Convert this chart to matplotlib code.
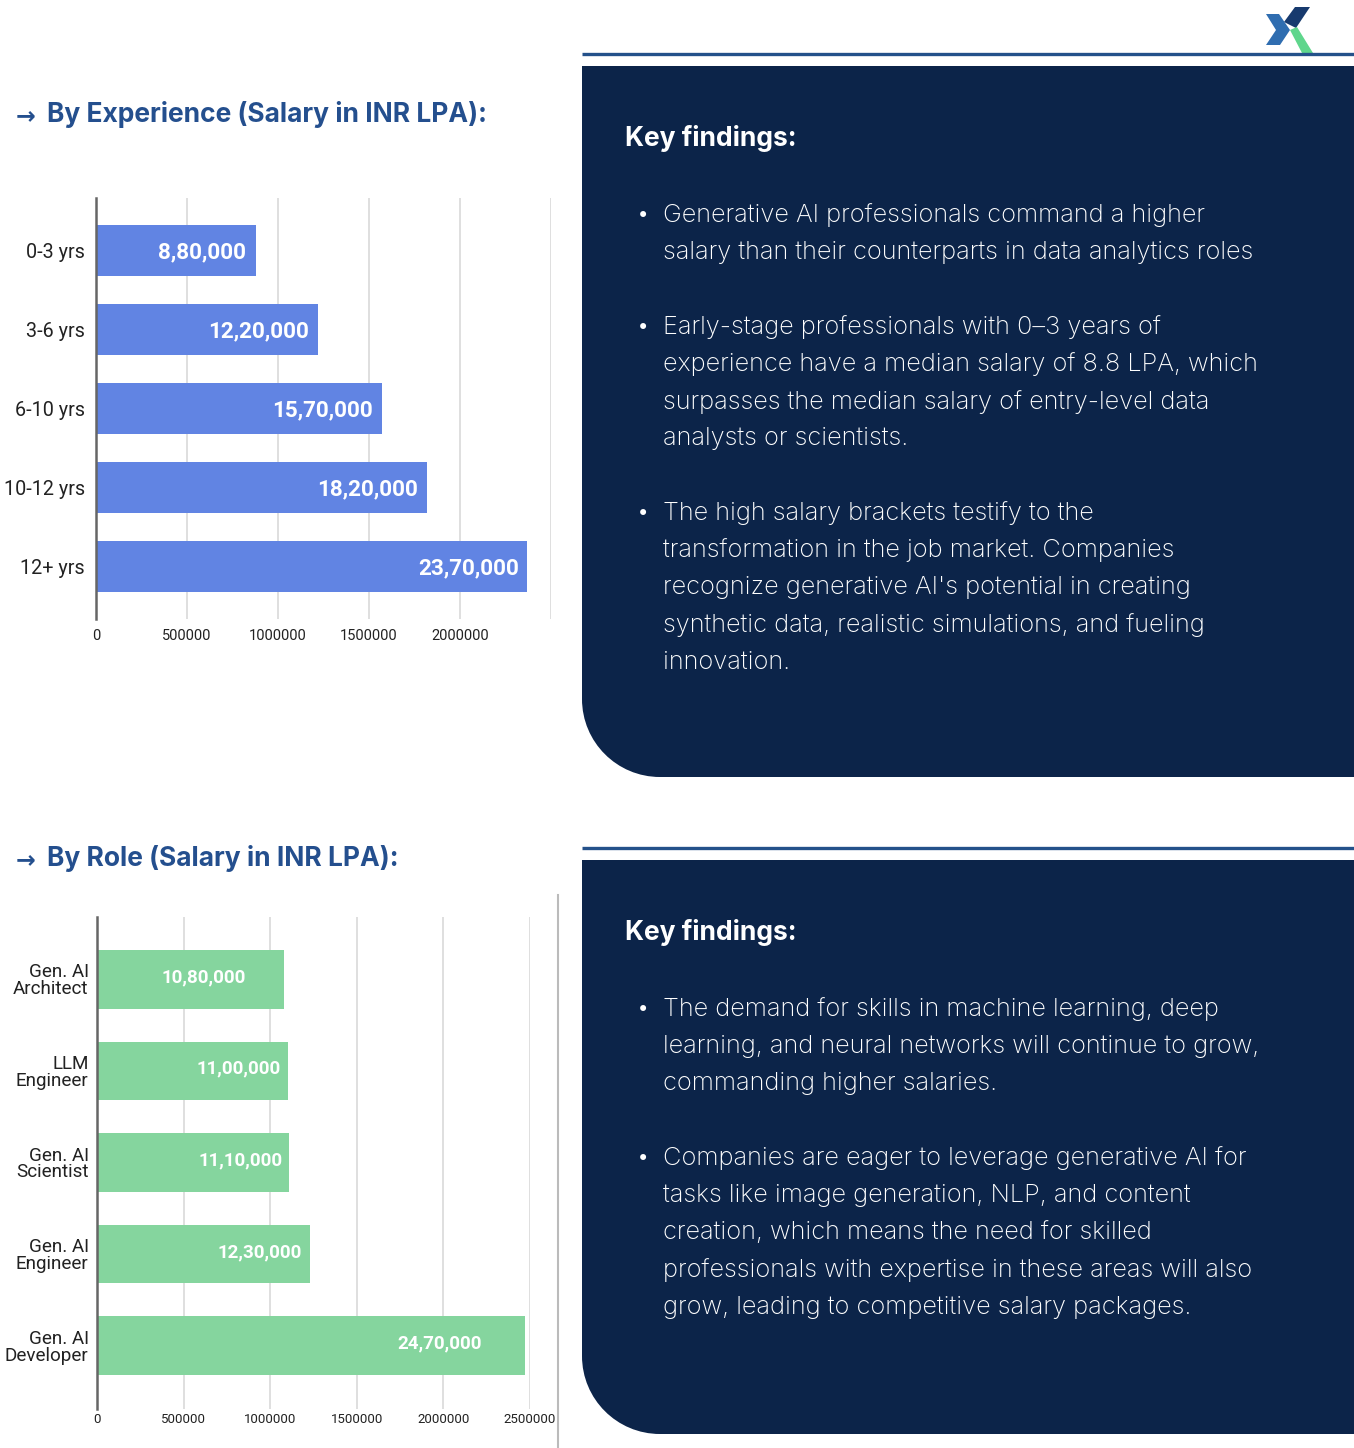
import matplotlib
matplotlib.use("Agg")
import matplotlib.pyplot as plt
from matplotlib.path import Path
from matplotlib.patches import PathPatch, Polygon
from matplotlib.ticker import FixedLocator

# ---------------- data ----------------
exp_categories = ["0-3 yrs", "3-6 yrs", "6-10 yrs", "10-12 yrs", "12+ yrs"]
exp_salaries = [880000, 1220000, 1570000, 1820000, 2370000]
exp_labels = ["8,80,000", "12,20,000", "15,70,000", "18,20,000", "23,70,000"]
exp_ticks = [0, 500000, 1000000, 1500000, 2000000]

role_categories = ["Gen. AI\nArchitect", "LLM\nEngineer", "Gen. AI\nScientist",
                   "Gen. AI\nEngineer", "Gen. AI\nDeveloper"]
role_salaries = [1080000, 1100000, 1110000, 1230000, 2470000]
role_labels = ["10,80,000", "11,00,000", "11,10,000", "12,30,000", "24,70,000"]
role_ticks = [0, 500000, 1000000, 1500000, 2000000, 2500000]

title_exp = "By Experience (Salary in INR LPA):"
title_role = "By Role (Salary in INR LPA):"
findings_head = "Key findings:"
findings_exp = [
    ["Generative AI professionals command a higher",
     "salary than their counterparts in data analytics roles"],
    ["Early-stage professionals with 0\u20133 years of",
     "experience have a median salary of 8.8 LPA, which",
     "surpasses the median salary of entry-level data",
     "analysts or scientists."],
    ["The high salary brackets testify to the",
     "transformation in the job market. Companies",
     "recognize generative AI's potential in creating",
     "synthetic data, realistic simulations, and fueling",
     "innovation."],
]
findings_role = [
    ["The demand for skills in machine learning, deep",
     "learning, and neural networks will continue to grow,",
     "commanding higher salaries."],
    ["Companies are eager to leverage generative AI for",
     "tasks like image generation, NLP, and content",
     "creation, which means the need for skilled",
     "professionals with expertise in these areas will also",
     "grow, leading to competitive salary packages."],
]

# ---------------- style ----------------
W, H = 1354, 1448
NAVY = "#0C2449"
LINE = "#24518A"
TITLE = "#244F8E"
BLUE_BAR = "#6184E3"
GREEN_BAR = "#85D59E"
GRID = "#D9D9D9"
AXIS = "#666666"
BODY_FONT = ["Inter", "DejaVu Sans"]
CHART_FONT = ["Roboto", "DejaVu Sans"]

fig = plt.figure(figsize=(W / 100, H / 100), dpi=100)
fig.patch.set_facecolor("white")

bg = fig.add_axes([0, 0, 1, 1], zorder=0)
bg.set_xlim(0, W)
bg.set_ylim(H, 0)
bg.axis("off")


def panel(x0, y0, x1, y1, r):
    k = 0.5523 * r
    verts = [(x0, y0), (x1, y0), (x1, y1), (x0 + r, y1),
             (x0 + r - k, y1), (x0, y1 - r + k), (x0, y1 - r),
             (x0, y0)]
    codes = [Path.MOVETO, Path.LINETO, Path.LINETO, Path.LINETO,
             Path.CURVE4, Path.CURVE4, Path.CURVE4, Path.CLOSEPOLY]
    bg.add_patch(PathPatch(Path(verts, codes), facecolor=NAVY, edgecolor="none"))


def findings(x_head, y_head, y_bullets, paragraphs):
    bg.text(x_head, y_head, findings_head, color="white", fontsize=19,
            fontweight="bold", family=BODY_FONT, va="center", ha="left")
    for yb, lines in zip(y_bullets, paragraphs):
        bg.text(643, yb + 1, "\u2022", color="white", fontsize=15,
                family=["DejaVu Sans"], va="center", ha="center")
        for i, ln in enumerate(lines):
            bg.text(663, yb + i * 37.3, ln, color="white", fontsize=18.3,
                    family=BODY_FONT, fontweight="light", va="center", ha="left")


for y_line, y0, y1 in [(54, 66, 777), (848, 860, 1434)]:
    bg.plot([582, W], [y_line, y_line], color=LINE, lw=2.4, solid_capstyle="butt")
    panel(582, y0, W, y1, 78)

findings(625, 139, [215, 327, 513], findings_exp)
findings(625, 933, [1009, 1158], findings_role)

for y, t in [(114, title_exp), (858, title_role)]:
    bg.text(26, y + 2, "\u2192", color=TITLE, fontsize=17, fontweight="bold",
            family=["DejaVu Sans"], va="center", ha="center")
    bg.text(47, y, t, color=TITLE, fontsize=19, fontweight="bold",
            family=BODY_FONT, va="center", ha="left")

# logo
bg.add_patch(Polygon([(1295, 7), (1310, 7), (1296, 28), (1284, 22)],
                     closed=True, facecolor="#173A6E", edgecolor="none"))
bg.add_patch(Polygon([(1266, 14), (1279, 14), (1290, 30), (1280, 45),
                      (1266, 45), (1276, 30)],
                     closed=True, facecolor="#2F6DB0", edgecolor="none"))
bg.add_patch(Polygon([(1290, 30), (1297, 27), (1313, 53), (1302, 53)],
                     closed=True, facecolor="#5FD68C", edgecolor="none"))

bg.plot([558, 558], [895, H], color="#BBBBBB", lw=1.5)


def px_axes(x0, y0, x1, y1):
    return fig.add_axes([x0 / W, 1 - y1 / H, (x1 - x0) / W, (y1 - y0) / H], zorder=2)


def bar_chart(ax, cats, vals, labels, ticks, color, xmax, ylim, height,
              label_fs, cat_fs, tick_fs, insets, cat_pad, tick_pad, label_dy):
    y = list(range(len(cats)))
    ax.barh(y, vals, height=height, color=color, zorder=2)
    ax.set_xlim(0, xmax)
    ax.set_ylim(*ylim)
    ax.set_yticks(y)
    ax.set_yticklabels(cats, fontsize=cat_fs, family=CHART_FONT, color="#222222",
                       linespacing=0.92)
    ax.tick_params(axis="y", length=0, pad=cat_pad)
    ax.xaxis.set_major_locator(FixedLocator(ticks))
    ax.set_xticklabels([str(t) for t in ticks], fontsize=tick_fs,
                       family=CHART_FONT, color="#222222")
    ax.tick_params(axis="x", length=0, pad=tick_pad)
    for g in range(500000, xmax + 1, 500000):
        ax.axvline(g, color=GRID, lw=1.2, zorder=1)
    for s in ["top", "right", "bottom"]:
        ax.spines[s].set_visible(False)
    ax.spines["left"].set_color(AXIS)
    ax.spines["left"].set_linewidth(1.8)
    ax.spines["left"].set_zorder(3)
    ax.set_facecolor("none")
    for yi, v, lab, ins in zip(y, vals, labels, insets):
        ax.annotate(lab, xy=(v, yi), xytext=(-ins, label_dy), textcoords="offset pixels",
                    ha="right", va="center", color="white", fontsize=label_fs,
                    fontweight="bold", family=CHART_FONT, zorder=4)


ax1 = px_axes(96, 198, 551, 619)
bar_chart(ax1, exp_categories, exp_salaries, exp_labels, exp_ticks, BLUE_BAR,
          2500000, (4.67, -0.67), 0.65, 16.2, 14.2, 10.5, [10, 9, 9, 9, 8], 8, 7, -2)

ax2 = px_axes(97, 917, 530, 1409)
bar_chart(ax2, role_categories, role_salaries, role_labels, role_ticks, GREEN_BAR,
          2500000, (4.69, -0.68), 0.64, 13.5, 13.6, 9.5, [38, 7, 7, 8, 43], 6, 3, 2)

fig.savefig("out.png", dpi=100, facecolor="white")
